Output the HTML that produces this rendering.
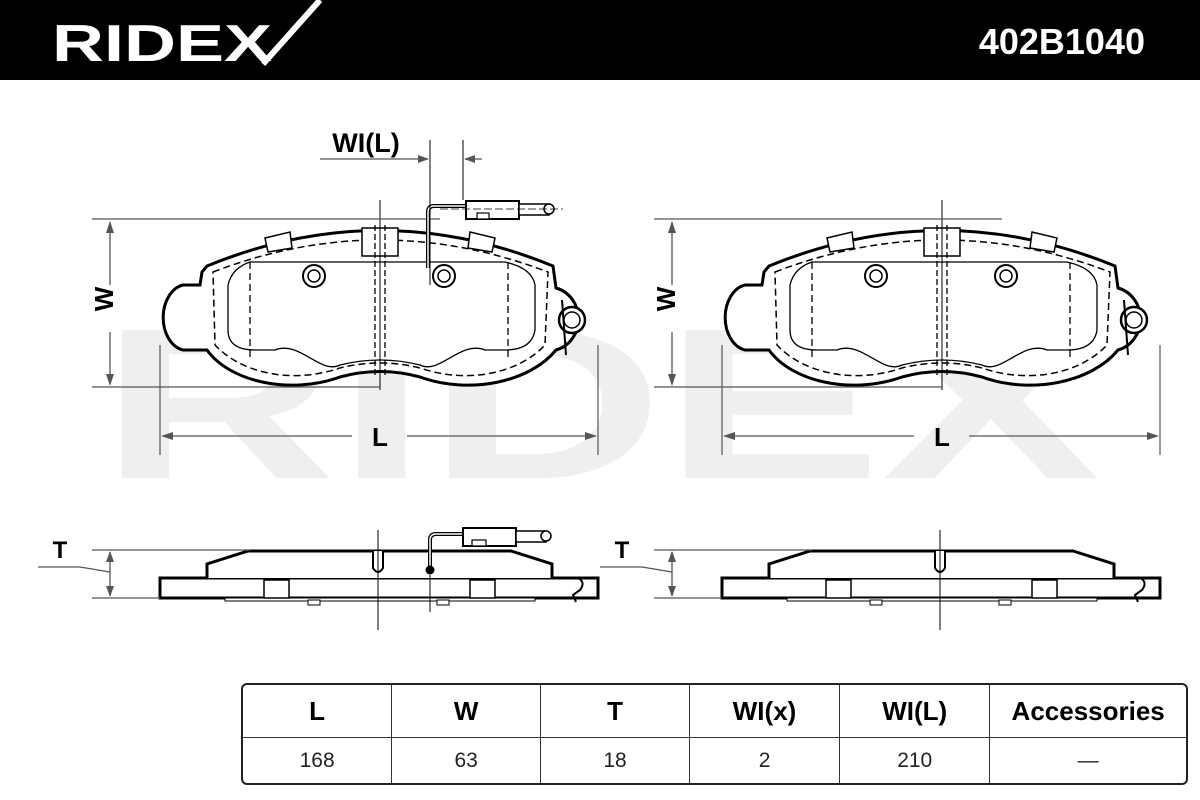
<!DOCTYPE html>
<html><head><meta charset="utf-8"><style>
html,body{margin:0;padding:0;background:#fff;width:1200px;height:800px;overflow:hidden;font-family:"Liberation Sans",sans-serif}
#hdr{position:absolute;left:0;top:0;width:1200px;height:80px;background:#000}
table{position:absolute;left:241px;top:683px;width:947px;height:102px;border-collapse:separate;border-spacing:0;border:2px solid #222;border-radius:6px}
td{border-right:1.5px solid #333;text-align:center;width:150px;font-size:22px}
td:last-child{border-right:none;width:195px}
tr:first-child td{font-weight:bold;font-size:26px;border-bottom:1.5px solid #333;height:50px}
tr:last-child td{font-size:21px;color:#222}
</style></head><body>
<div id="hdr"></div>
<svg width="1200" height="800" style="position:absolute;left:0;top:0">
<text x="52" y="61" fill="#fff" font-size="52" font-weight="bold" font-family="Liberation Sans" textLength="220" lengthAdjust="spacingAndGlyphs">RIDEX</text>
<line x1="263" y1="64" x2="320" y2="0" stroke="#fff" stroke-width="6"/>
<text x="1145" y="54" fill="#fff" font-size="36" font-weight="bold" text-anchor="end" font-family="Liberation Sans">402B1040</text>
<!-- watermark -->
<text x="100" y="478" fill="#efefef" font-size="215" font-weight="bold" font-family="Liberation Sans" textLength="1000" lengthAdjust="spacingAndGlyphs">RIDEX</text>
<defs>
<g id="pad">
<path d="M183,285 L200,285 L202,272 L207,266 Q380,195 553,266 L556,288 A30,32 0 0 1 556,350 C530,382 470,395 420,377 Q380,366 340,377 C290,395 230,382 207,350 L183,350 A24,33 0 0 1 183,285 Z" fill="#fff" stroke="#000" stroke-width="3"/>
<path d="M213,272 Q380,208 548,272 L545,345 C520,372 470,385 420,368 Q380,358 340,368 C290,385 240,372 215,345 Z" fill="none" stroke="#000" stroke-width="1.5" stroke-dasharray="7,4"/>
<path d="M228,285 Q232,268 250,262 L505,262 Q532,268 535,285 L535,330 Q532,350 505,350 L485,350 C460,340 440,375 420,365 Q380,355 340,365 C320,375 300,340 275,350 L255,350 Q228,350 228,330 Z" fill="none" stroke="#000" stroke-width="1.3"/>
<rect x="362" y="228" width="36" height="28" fill="#fff" stroke="#000" stroke-width="1.5"/>
<line x1="375" y1="225" x2="375" y2="375" stroke="#000" stroke-width="1.3" stroke-dasharray="6,3"/>
<line x1="385" y1="225" x2="385" y2="375" stroke="#000" stroke-width="1.3" stroke-dasharray="6,3"/>
<line x1="250" y1="262" x2="250" y2="360" stroke="#000" stroke-width="1.3" stroke-dasharray="7,4"/>
<line x1="508" y1="262" x2="508" y2="360" stroke="#000" stroke-width="1.3" stroke-dasharray="7,4"/>
<path d="M265,238 L290,232 L292,248 L268,252 Z" fill="#fff" stroke="#000" stroke-width="1.5"/>
<path d="M470,232 L495,238 L492,252 L468,248 Z" fill="#fff" stroke="#000" stroke-width="1.5"/>
<circle cx="314" cy="276" r="11" fill="none" stroke="#000" stroke-width="2"/><circle cx="314" cy="276" r="6" fill="none" stroke="#000" stroke-width="1.5"/>
<circle cx="444" cy="276" r="11" fill="none" stroke="#000" stroke-width="2"/><circle cx="444" cy="276" r="6" fill="none" stroke="#000" stroke-width="1.5"/>
<circle cx="572" cy="320" r="13" fill="#fff" stroke="#000" stroke-width="2.5"/><circle cx="572" cy="320" r="8" fill="none" stroke="#000" stroke-width="1.5"/>
<line x1="562" y1="300" x2="566" y2="355" stroke="#000" stroke-width="2"/>
<line x1="380" y1="200" x2="380" y2="390" stroke="#000" stroke-width="1"/>
<!-- dims -->
<line x1="92" y1="219" x2="440" y2="219" stroke="#555" stroke-width="1.2"/>
<line x1="92" y1="387" x2="380" y2="387" stroke="#555" stroke-width="1.2"/>
<line x1="110" y1="222" x2="110" y2="285" stroke="#555" stroke-width="1.3"/>
<line x1="110" y1="332" x2="110" y2="384" stroke="#555" stroke-width="1.3"/>
<path d="M110,221 L106,233 L114,233Z M110,386 L106,374 L114,374Z" fill="#555"/>
<text x="122" y="308" font-size="26" font-weight="bold" text-anchor="middle" transform="rotate(-90 113 308)" font-family="Liberation Sans">W</text>
<line x1="160" y1="345" x2="160" y2="455" stroke="#555" stroke-width="1.2"/>
<line x1="598" y1="345" x2="598" y2="455" stroke="#555" stroke-width="1.2"/>
<line x1="163" y1="436" x2="352" y2="436" stroke="#555" stroke-width="1.3"/>
<line x1="407" y1="436" x2="595" y2="436" stroke="#555" stroke-width="1.3"/>
<path d="M161,436 L173,432 L173,440Z M597,436 L585,432 L585,440Z" fill="#555"/>
<text x="380" y="446" font-size="26" font-weight="bold" text-anchor="middle" font-family="Liberation Sans">L</text>
</g>
<g id="side">
<rect x="160" y="578" width="438" height="20" fill="#fff" stroke="#000" stroke-width="3"/>
<path d="M207,578 L207,564 L248,551 L511,551 L552,564 L552,578" fill="#fff" stroke="#000" stroke-width="3"/>
<path d="M373,551 L373,568 Q378,576 383,568 L383,551" fill="#fff" stroke="#000" stroke-width="2"/>
<rect x="225" y="598" width="310" height="3" fill="#fff" stroke="#000" stroke-width="1"/>
<rect x="264" y="580" width="25" height="18" fill="#fff" stroke="#000" stroke-width="1.5"/>
<rect x="470" y="580" width="25" height="18" fill="#fff" stroke="#000" stroke-width="1.5"/>
<rect x="308" y="600" width="12" height="5" fill="#fff" stroke="#000"/>
<rect x="437" y="600" width="12" height="5" fill="#fff" stroke="#000"/>
<path d="M556,578 L578,578 Q586,582 580,590 L573,595 L576,602" fill="none" stroke="#000" stroke-width="2"/>
<line x1="378" y1="530" x2="378" y2="630" stroke="#000" stroke-width="1"/>
<line x1="92" y1="550" x2="250" y2="550" stroke="#555" stroke-width="1.2"/>
<line x1="92" y1="598" x2="160" y2="598" stroke="#555" stroke-width="1.2"/>
<line x1="110" y1="552" x2="110" y2="596" stroke="#555" stroke-width="1.3"/>
<path d="M110,551 L106,562 L114,562Z M110,597 L106,586 L114,586Z" fill="#555"/>
<polyline points="38,567 80,567 110,572" fill="none" stroke="#555" stroke-width="1.2"/>
<text x="60" y="558" font-size="24" font-weight="bold" text-anchor="middle" font-family="Liberation Sans">T</text>
</g>
</defs>
<use href="#pad"/>
<use href="#pad" x="562"/>
<use href="#side"/>
<use href="#side" x="562"/>
<!-- wear indicator left pad -->
<g stroke="#000" fill="#fff">
<path d="M428,268 L428,212 Q428,206 434,206 L466,206" fill="none" stroke-width="4"/>
<path d="M428,268 L428,212 Q428,206 434,206 L466,206" fill="none" stroke="#fff" stroke-width="1.5"/>
<rect x="466" y="201" width="53" height="18" stroke-width="2"/>
<rect x="477" y="213" width="12" height="6" stroke-width="1.2"/>
<rect x="519" y="204" width="30" height="11" stroke-width="1.5"/>
<circle cx="549" cy="209" r="5" stroke-width="1.5"/>
<line x1="440" y1="209" x2="563" y2="209" stroke-width="0.8" stroke-dasharray="8,3"/>
<line x1="430" y1="140" x2="430" y2="285" stroke-width="1"/>
<line x1="463" y1="140" x2="463" y2="200" stroke-width="1"/>
<line x1="320" y1="159" x2="428" y2="159" stroke="#555" stroke-width="1.3"/>
<line x1="465" y1="159" x2="482" y2="159" stroke="#555" stroke-width="1.3"/>
<path d="M429,159 L418,155 L418,163Z M464,159 L475,155 L475,163Z" fill="#555" stroke="none"/>
<!-- side view wear indicator -->
<path d="M430,570 L430,540 Q430,534 436,534 L466,534" fill="none" stroke-width="4"/>
<path d="M430,570 L430,540 Q430,534 436,534 L466,534" fill="none" stroke="#fff" stroke-width="1.5"/>
<circle cx="430" cy="570" r="4" fill="#000"/>
<rect x="463" y="528" width="53" height="18" stroke-width="2"/>
<rect x="472" y="540" width="14" height="6" stroke-width="1.2"/>
<rect x="516" y="531" width="30" height="11" stroke-width="1.5"/>
<circle cx="546" cy="536" r="5" stroke-width="1.5"/>
<line x1="430" y1="575" x2="430" y2="612" stroke-width="1"/>
</g>
<text x="366" y="152" font-size="27" font-weight="bold" text-anchor="middle" font-family="Liberation Sans">WI(L)</text>
</svg>
<table>
<tr><td>L</td><td>W</td><td>T</td><td>WI(x)</td><td>WI(L)</td><td>Accessories</td></tr>
<tr><td>168</td><td>63</td><td>18</td><td>2</td><td>210</td><td>—</td></tr>
</table>
</body></html>
